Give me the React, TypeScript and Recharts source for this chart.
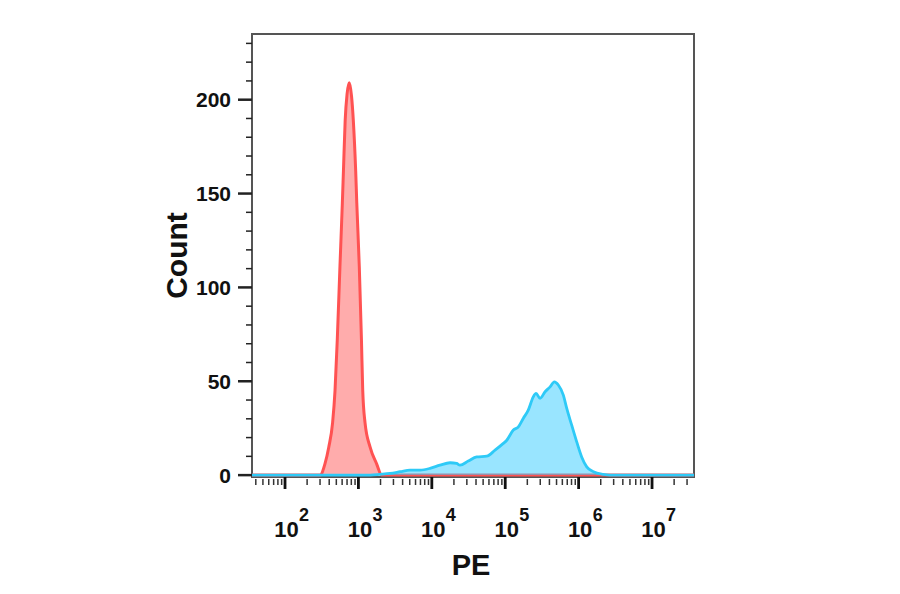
import { Area, AreaChart, Label, ReferenceArea, XAxis, YAxis } from 'recharts'

// PE intensity (x, log scale) and event counts
const X_MIN = 35.5
const X_MAX = 3.73e7
const Y_MIN = -1
const Y_MAX = 235

const controlPE = [
  X_MIN, 300, 350, 395, 445, 480, 515, 560, 604, 625, 660, 700, 752, 805, 852, 918, 950,
  1028, 1100, 1145, 1230, 1440, 1770, 2080, X_MAX,
]
const controlCount = [
  0, 0, 6, 15, 28, 45, 72, 111, 145, 162, 189, 203, 209, 202, 189, 162, 145,
  111, 72, 45, 28, 15, 6, 0, 0,
]

const stainedPE = [
  X_MIN, 1450, 1970, 2700, 3700, 5050, 6900, 9450, 12900, 17700, 21800, 24200, 31400,
  40900, 56000, 72600, 94200, 105000, 129000, 151000, 176000, 206000, 241000, 263000,
  298000, 349000, 408000, 467000, 529000, 619000, 689000, 805000, 942000, 1100000,
  1290000, 1590000, 2170000, 2680000, X_MAX,
]
const stainedCount = [
  0, 0, 0.4, 0.9, 1.8, 2.7, 2.7, 3.6, 5.3, 6.6, 6.2, 5.3, 7.5,
  9.7, 10.1, 13.3, 16.9, 18.6, 24, 25.7, 30.2, 34.6, 41.7, 43.5,
  40.9, 44.4, 47, 49.7, 48, 42.6, 35.5, 26.6, 17.7, 9.7,
  4.4, 1.8, 0.4, 0, 0,
]

const xTicks = [
  40, 50, 60, 70, 80, 90,
  100, 200, 300, 400, 500, 600, 700, 800, 900,
  1e3, 2e3, 3e3, 4e3, 5e3, 6e3, 7e3, 8e3, 9e3,
  1e4, 2e4, 3e4, 4e4, 5e4, 6e4, 7e4, 8e4, 9e4,
  1e5, 2e5, 3e5, 4e5, 5e5, 6e5, 7e5, 8e5, 9e5,
  1e6, 2e6, 3e6, 4e6, 5e6, 6e6, 7e6, 8e6, 9e6,
  1e7, 2e7, 3e7,
]
const yTicks = [
  0, 10, 20, 30, 40, 50, 60, 70, 80, 90, 100, 110, 120, 130, 140, 150, 160, 170, 180, 190,
  200, 210, 220, 230,
]

const FONT = '"Liberation Sans", Arial, Helvetica, sans-serif'

// merge both histograms onto one x column
const data = (() => {
  const rows = new Map<number, { pe: number; control?: number; stained?: number }>()
  controlPE.forEach((pe, i) => {
    rows.set(pe, { ...(rows.get(pe) || { pe }), control: controlCount[i] })
  })
  stainedPE.forEach((pe, i) => {
    rows.set(pe, { ...(rows.get(pe) || { pe }), stained: stainedCount[i] })
  })
  return Array.from(rows.values()).sort((a, b) => a.pe - b.pe)
})()

function XTick(props: any) {
  const { x, y, payload } = props
  const lg = Math.log10(payload.value)
  const exp = Math.round(lg)
  const major = Math.abs(lg - exp) < 1e-6
  if (!major) {
    return <line x1={x} x2={x} y1={y + 2} y2={y + 8} stroke="#333" strokeWidth={1.5} />
  }
  return (
    <g>
      <line x1={x} x2={x} y1={y} y2={y + 12} stroke="#111" strokeWidth={2.8} />
      <text x={x + 1.5} y={y + 60} textAnchor="middle" fontFamily={FONT} fontWeight="bold" fontSize={22} fill="#111">
        10
      </text>
      <text x={x + 14} y={y + 44} textAnchor="start" fontFamily={FONT} fontWeight="bold" fontSize={18} fill="#111">
        {exp}
      </text>
    </g>
  )
}

function YTick(props: any) {
  const { x, y, payload } = props
  const v = payload.value
  const major = v % 50 === 0
  return (
    <g>
      <line x1={x - (major ? 14 : 6)} x2={x} y1={y} y2={y} stroke="#222" strokeWidth={major ? 2.5 : 1.5} />
      {major && (
        <text x={x - 21} y={y} textAnchor="end" dominantBaseline="central" fontFamily={FONT} fontWeight="bold" fontSize={21} fill="#111">
          {v}
        </text>
      )}
    </g>
  )
}

function YTitle(props: any) {
  const { viewBox } = props
  const cx = viewBox.x + 4.5
  const cy = viewBox.y + viewBox.height / 2
  return (
    <text
      x={cx}
      y={cy}
      transform={`rotate(-90 ${cx} ${cy})`}
      textAnchor="middle"
      dominantBaseline="central"
      fontFamily={FONT}
      fontWeight="bold"
      fontSize={30}
      fill="#111"
    >
      Count
    </text>
  )
}

function XTitle(props: any) {
  const { viewBox } = props
  return (
    <text
      x={viewBox.x + viewBox.width / 2 - 2}
      y={viewBox.y + 98}
      textAnchor="middle"
      fontFamily={FONT}
      fontWeight="bold"
      fontSize={29}
      fill="#111"
    >
      PE
    </text>
  )
}

export default function App() {
  return (
    <div style={{ position: 'absolute', left: 0, top: 0, width: 900, height: 594, background: '#fff' }}>
      <AreaChart width={900} height={594} data={data} margin={{ top: 34, right: 206, bottom: 17, left: 172 }}>
        <XAxis
          dataKey="pe"
          type="number"
          scale="log"
          domain={[X_MIN, X_MAX]}
          allowDataOverflow
          ticks={xTicks}
          interval={0}
          tick={<XTick />}
          tickLine={false}
          tickSize={0}
          tickMargin={0}
          axisLine={false}
          height={100}
        >
          <Label content={<XTitle />} />
        </XAxis>
        <YAxis
          type="number"
          domain={[Y_MIN, Y_MAX]}
          allowDataOverflow
          ticks={yTicks}
          interval={0}
          tick={<YTick />}
          tickLine={false}
          tickSize={0}
          tickMargin={0}
          axisLine={false}
          width={80}
        >
          <Label content={<YTitle />} />
        </YAxis>
        <ReferenceArea
          x1={X_MIN}
          x2={X_MAX}
          y1={Y_MIN}
          y2={Y_MAX}
          fill="none"
          stroke="#555"
          strokeWidth={2}
          ifOverflow="visible"
        />
        <Area
          type="monotone"
          dataKey="control"
          stroke="#ff5252"
          strokeWidth={3}
          fill="#ff5252"
          fillOpacity={0.48}
          connectNulls
          dot={false}
          activeDot={false}
          isAnimationActive={false}
        />
        <Area
          type="monotone"
          dataKey="stained"
          stroke="#2ecaf7"
          strokeWidth={2.8}
          fill="#33ccff"
          fillOpacity={0.5}
          connectNulls
          dot={false}
          activeDot={false}
          isAnimationActive={false}
        />
      </AreaChart>
    </div>
  )
}
